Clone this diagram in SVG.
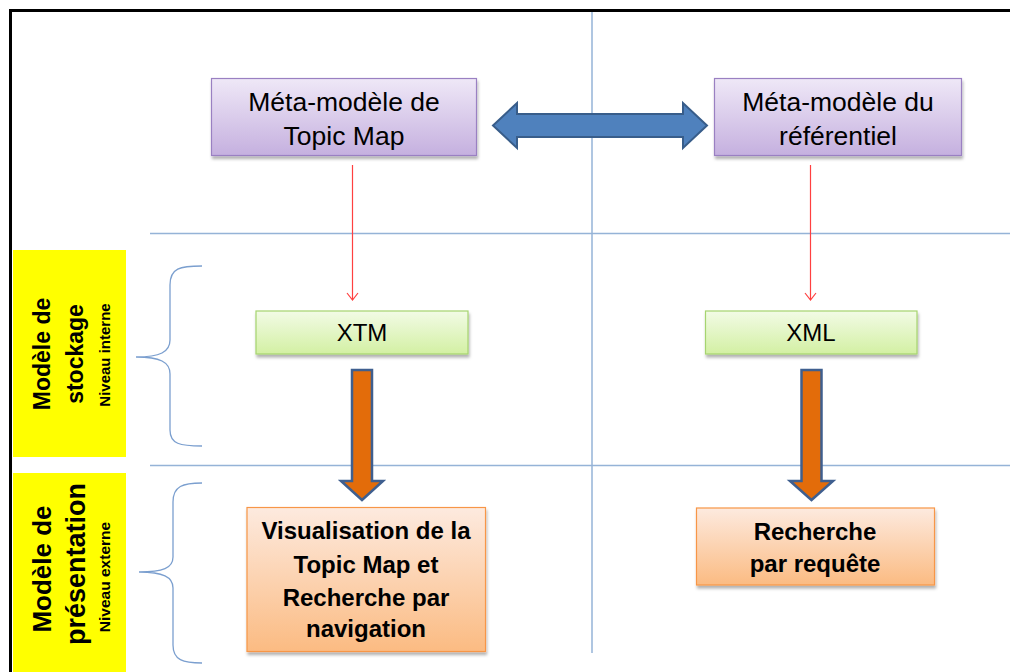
<svg xmlns="http://www.w3.org/2000/svg" width="1010" height="672" viewBox="0 0 1010 672">
<style>
.reg{font-family:"Liberation Sans",Arial,sans-serif;fill:#000;text-anchor:middle}
.bold{font-family:"Liberation Sans",Arial,sans-serif;font-weight:bold;fill:#000;text-anchor:middle}
.grid{stroke:#95b3d7;stroke-width:1.5;fill:none}
.brace{stroke:#7b9fcf;stroke-width:1.3;fill:none}
.red{stroke:#ff4040;stroke-width:1.2;fill:none}
.purple{fill:url(#gPurple);stroke:#9a80c2;stroke-width:1.2;filter:url(#sh)}
.green{fill:url(#gGreen);stroke:#a6d46f;stroke-width:1.2;filter:url(#sh)}
.orange{fill:url(#gOrange);stroke:#f79646;stroke-width:1.2;filter:url(#sh)}
.oarrow{fill:#e36c0a;stroke:#3f5f8f;stroke-width:2.5;stroke-linejoin:miter}
.barrow{fill:#4f81bd;stroke:#385d8a;stroke-width:2;stroke-linejoin:miter}
.yellow{fill:#ffff00}
</style>
<defs>
<linearGradient id="gPurple" x1="0" y1="0" x2="0" y2="1"><stop offset="0" stop-color="#efe8f7"/><stop offset="1" stop-color="#c5b0df"/></linearGradient>
<linearGradient id="gGreen" x1="0" y1="0" x2="0" y2="1"><stop offset="0" stop-color="#f2fbe6"/><stop offset="1" stop-color="#d3f0a3"/></linearGradient>
<linearGradient id="gOrange" x1="0" y1="0" x2="0" y2="1"><stop offset="0" stop-color="#fdeadf"/><stop offset="1" stop-color="#fbbb82"/></linearGradient>
<filter id="sh" x="-10%" y="-10%" width="125%" height="130%"><feDropShadow dx="1" dy="3" stdDeviation="1.5" flood-color="#000" flood-opacity="0.3"/></filter>
</defs>
<rect width="1010" height="672" fill="#fff"/>
<path d="M10.5,672 V10.5 H1010" stroke="#000" stroke-width="3" fill="none"/>

<g id="grid">
<line class="grid" x1="592" y1="12" x2="592" y2="653"/>
<line class="grid" x1="150" y1="233.5" x2="1010" y2="233.5"/>
<line class="grid" x1="150" y1="465.5" x2="1010" y2="465.5"/>
</g>

<g id="label-stockage">
<rect class="yellow" x="13" y="250" width="113" height="207"/>
<text class="bold" font-size="23" transform="translate(50,354) rotate(-90)">Modèle de</text>
<text class="bold" font-size="23" transform="translate(83,354) rotate(-90)">stockage</text>
<text class="bold" font-size="15" transform="translate(110,355) rotate(-90)">Niveau interne</text>
</g>
<g id="label-presentation">
<rect class="yellow" x="13" y="473" width="113" height="199"/>
<text class="bold" font-size="26" transform="translate(51,569) rotate(-90)">Modèle de</text>
<text class="bold" font-size="27" transform="translate(85,564) rotate(-90)">présentation</text>
<text class="bold" font-size="15.5" transform="translate(110,577) rotate(-90)">Niveau externe</text>
</g>

<g id="braces">
<path class="brace" d="M202,266 C180,266 170,268 170,285 V340 C170,352 160,357 136,357 C160,357 170,362 170,374 V430 C170,444 180,446 202,446"/>
<path class="brace" d="M202,483 C183,483 173,486 173,502 V557 C173,568 163,572 139,572 C163,572 173,577 173,588 V645 C173,660 183,663 202,663"/>
</g>

<g id="connectors">
<path class="barrow" d="M493,125.5 L517,103 V114 H683 V103 L707,125.5 L683,148 V137 H517 V148 Z"/>
<path class="red" d="M352.5,165 V300 M347,293 L352.5,300 L358,293"/>
<path class="red" d="M810.5,165 V300 M805,293 L810.5,300 L816,293"/>
<path class="oarrow" d="M352,370 H372 V481 H383 L362,500 L341,481 H352 Z"/>
<path class="oarrow" d="M801.5,370 H821.5 V481 H833 L811.5,500 L790,481 H801.5 Z"/>
</g>

<g id="meta-topicmap">
<rect class="purple" x="211.5" y="78.5" width="265" height="77"/>
<text class="reg" font-size="26.5" x="344" y="111">Méta-modèle de</text>
<text class="reg" font-size="26.5" x="344" y="145">Topic Map</text>
</g>
<g id="meta-referentiel">
<rect class="purple" x="714.5" y="78.5" width="247" height="77"/>
<text class="reg" font-size="26.5" x="838" y="111">Méta-modèle du</text>
<text class="reg" font-size="26.5" x="838" y="145">référentiel</text>
</g>

<g id="xtm">
<rect class="green" x="256" y="311" width="212" height="43"/>
<text class="reg" font-size="24" x="362" y="341">XTM</text>
</g>
<g id="xml">
<rect class="green" x="705.5" y="311" width="211.5" height="43"/>
<text class="reg" font-size="24" x="811" y="341">XML</text>
</g>

<g id="visualisation">
<rect class="orange" x="247" y="507.5" width="238.5" height="144"/>
<text class="bold" font-size="24" x="366" y="539">Visualisation de la</text>
<text class="bold" font-size="24" x="366" y="573">Topic Map et</text>
<text class="bold" font-size="24" x="366" y="606">Recherche par</text>
<text class="bold" font-size="24" x="366" y="637">navigation</text>
</g>
<g id="recherche">
<rect class="orange" x="696.5" y="508" width="238" height="77"/>
<text class="bold" font-size="24" x="815" y="540">Recherche</text>
<text class="bold" font-size="24" x="815" y="572">par requête</text>
</g>
</svg>
